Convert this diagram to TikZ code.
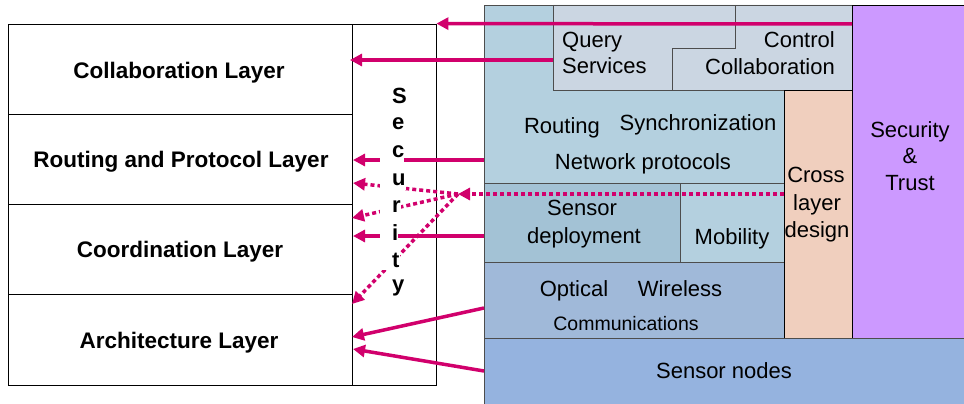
\documentclass[tikz,border=0pt]{standalone}
\usepackage{fontspec}
\setmainfont{Liberation Sans}
\usetikzlibrary{arrows.meta}
\definecolor{mainblue}{HTML}{B4D0DF}
\definecolor{qgray}{HTML}{CBD6E2}
\definecolor{deploy}{HTML}{A3C2D5}
\definecolor{optical}{HTML}{A0B9D9}
\definecolor{nodesblue}{HTML}{95B3DF}
\definecolor{crosscol}{HTML}{F0CFBE}
\definecolor{purplecol}{HTML}{CC99FF}
\definecolor{magentacol}{HTML}{D1006C}
\definecolor{bordercol}{HTML}{4D4D4D}
\begin{document}
\begin{tikzpicture}[x=1pt,y=-1pt,
  layerbox/.style={draw=black, line width=0.8pt, minimum width=344pt, inner sep=0pt},
  layertxt/.style={font=\fontsize{22.5}{26}\selectfont\bfseries, inner sep=0pt,
     text height=16pt, text depth=0pt},
  blockbox/.style={draw=bordercol, line width=0.9pt, inner sep=0pt},
  lbl/.style={font=\fontsize{22}{26}\selectfont, inner sep=0pt, text height=15.7pt, text depth=0pt},
  smalllbl/.style={font=\fontsize{19.5}{24}\selectfont, inner sep=0pt, text height=14pt, text depth=0pt},
  secletter/.style={anchor=west, fill=white, inner sep=0pt, minimum height=20pt,
     font=\fontsize{22}{26}\selectfont\bfseries},
  arr/.style={draw=magentacol, line width=3.5pt, -{Triangle[length=12pt,width=12pt]}},
  dotarr/.style={arr, dash pattern=on 4pt off 3pt}]
\useasboundingbox (0,0) rectangle (964,404);
% ---------- left stack ----------
\node[layerbox, minimum height=90pt] (coll) at (180,69) {};
\node[layerbox, minimum height=90pt] (rout) at (180,159) {};
\node[layerbox, minimum height=90pt] (coord) at (180,249) {};
\node[layerbox, minimum height=91pt] (arch) at (180,339.5) {};
\node[layertxt] (tcoll) at (179,70) {Collaboration Layer};
\node[layertxt] (trout) at (181,159.5) {Routing and Protocol Layer};
\node[layertxt] (tcoord) at (180,249.5) {Coordination Layer};
\node[layertxt] (tarch) at (179,340.5) {Architecture Layer};
\node[draw=black, line width=0.8pt, minimum width=84pt, minimum height=361pt, inner sep=0pt] (secc) at (394,204.5) {};
% ---------- right block ----------
\node[blockbox, fill=mainblue, minimum width=300pt, minimum height=257pt] (main) at (634,133.5) {};
\draw[blockbox, fill=qgray] (553,5) -- (735,5) -- (735,48) -- (672,48) -- (672,90) -- (553,90) -- cycle;
\draw[blockbox, fill=qgray] (735,5) -- (852,5) -- (852,90) -- (672,90) -- (672,48) -- (735,48) -- cycle;
\node[blockbox, fill=deploy, minimum width=196pt, minimum height=79pt] (dep) at (582,222.5) {};
\node[blockbox, fill=mainblue, minimum width=104pt, minimum height=79pt] (mob) at (732,222.5) {};
\node[blockbox, fill=optical, minimum width=300pt, minimum height=76pt] (opt) at (634,300) {};
\node[draw=black, line width=0.9pt, fill=crosscol, minimum width=68pt, minimum height=248pt, inner sep=0pt] (cross) at (818,214) {};
\node[draw=black, line width=0.9pt, fill=purplecol, minimum width=112pt, minimum height=333pt, inner sep=0pt] (sec) at (908,171.5) {};
\fill[nodesblue] (484,338) rectangle (964,404);
\draw[bordercol, line width=0.9pt] (484,404) -- (484,338) -- (964,338);
% ---------- right labels ----------
\node[lbl, anchor=west] (tq) at (562,40) {Query};
\node[lbl, anchor=west] (ts) at (562,66) {Services};
\node[lbl, anchor=east] (tc) at (835,40) {Control};
\node[lbl, anchor=east] (tcol) at (835,66.5) {Collaboration};
\node[lbl] (troute) at (562,126) {Routing};
\node[lbl] (tsync) at (698,122.5) {Synchronization};
\node[lbl] (tnet) at (643,161.5) {Network protocols};
\node[lbl] (tdep1) at (582,208) {Sensor};
\node[lbl] (tdep2) at (584,236) {deployment};
\node[lbl] (tmob) at (732,237) {Mobility};
\node[lbl] (tcr1) at (816,175) {Cross};
\node[lbl] (tcr2) at (817,202.5) {layer};
\node[lbl] (tcr3) at (817,229.5) {design};
\node[lbl] (tsec1) at (910,129.5) {Security};
\node[lbl] (tsec2) at (910,156) {\&};
\node[lbl] (tsec3) at (910,182.5) {Trust};
\node[lbl] (topt) at (574,288.5) {Optical};
\node[lbl] (twir) at (680,288.5) {Wireless};
\node[smalllbl] (tcomm) at (626,323.5) {Communications};
\node[lbl] (tnodes) at (724,370.5) {Sensor nodes};
% ---------- connector points ----------
\coordinate (a1s) at (852,24);
\coordinate (a2s) at (553,60);
\coordinate (a2e) at (350,60);
\coordinate (a3s) at (484,160);
\coordinate (a3e) at (353,160);
\coordinate (a4s) at (484,236);
\coordinate (a4e) at (353,236);
\coordinate (ds) at (784,194);
\coordinate (J) at (458,194);
\coordinate (du) at (353,183);
\coordinate (dr) at (352,218);
\coordinate (dy) at (352,304);
\coordinate (a6s) at (484,308);
\coordinate (a6e) at (352,337);
\coordinate (a7s) at (484,371);
\coordinate (a7e) at (353,349);
% ---------- connectors ----------
\draw[arr] (a1s) -- (secc.north east);
\draw[arr] (a2s) -- (a2e);
\draw[arr] (a3s) -- (a3e);
\draw[arr] (a4s) -- (a4e);
\draw[dotarr] (ds) -- (J);
\draw[dotarr] (J) -- (du);
\draw[dotarr] (J) -- (dr);
\draw[dotarr] (J) -- (dy);
\draw[arr] (a6s) -- (a6e);
\draw[arr] (a7s) -- (a7e);
% ---------- security letters ----------
\node[secletter] (s1) at (380,96) {\hspace*{12pt}S};
\node[secletter] (s2) at (380,124) {\hspace*{12pt}e};
\node[secletter] (s3) at (380,152) {\hspace*{12pt}c};
\node[secletter] (s4) at (380,180) {\hspace*{12pt}u};
\node[secletter] (s5) at (380,207) {\hspace*{12pt}r};
\node[secletter] (s6) at (380,233) {\hspace*{12pt}i};
\node[secletter] (s7) at (380,260) {\hspace*{12pt}t};
\node[secletter] (s8) at (380,288) {\hspace*{12pt}y};
\end{tikzpicture}
\end{document}
